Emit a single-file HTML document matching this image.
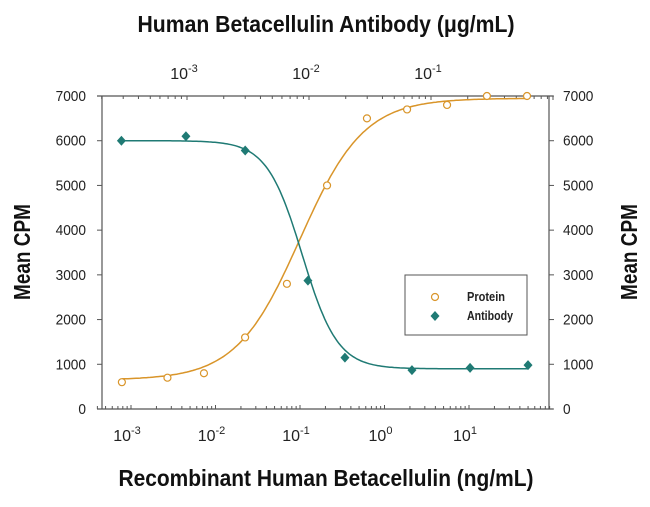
<!DOCTYPE html>
<html><head><meta charset="utf-8"><style>
body{margin:0;background:#fff}
svg{font-family:"Liberation Sans Narrow","Liberation Sans",sans-serif}
</style></head><body>
<svg id="chart" width="650" height="502" xmlns="http://www.w3.org/2000/svg"></svg>
<script>
const yTicks=[0,1000,2000,3000,4000,5000,6000,7000];
const bottomDecades=[-3,-2,-1,0,1];
const topDecades=[-3,-2,-1];
const proteinConc=[0.00078,0.0027,0.0073,0.0224,0.070,0.209,0.62,1.85,5.5,16.3,48.6];
const proteinCPM=[600,700,800,1600,2800,5000,6500,6700,6800,7000,7000];
const antibodyConc=[0.00029,0.00098,0.0030,0.0098,0.0197,0.0698,0.209,0.624];
const antibodyCPM=[6000,6100,5780,2870,1150,870,920,980];
const proteinFit={low:650,high:6950,ec50:0.1,hill:1.15};
const antibodyFit={low:6000,high:900,ec50:0.0088,hill:3.0};

const NS="http://www.w3.org/2000/svg";
const svg=document.getElementById('chart');
const L=97,R=553,T=96,B=409;
const y=v=>B-(v/7000)*(B-T);
const xb=c=>131+(Math.log10(c)+3)*84.5;
const xt=c=>187+(Math.log10(c)+3)*122;
function mk(tag,attrs,parent){const e=document.createElementNS(NS,tag);for(const k in attrs)e.setAttribute(k,attrs[k]);(parent||svg).appendChild(e);return e;}
function txt(s,attrs){const e=mk('text',attrs);e.textContent=s;return e;}

let a=mk('line',{x1:L,y1:B,x2:R,y2:B,stroke:'#555','stroke-width':1.2});

a=mk('line',{x1:L,y1:T,x2:R,y2:T,stroke:'#555','stroke-width':1.2});

a=mk('line',{x1:102,y1:T,x2:102,y2:B,stroke:'#555','stroke-width':1.2});

a=mk('line',{x1:549,y1:T,x2:549,y2:B,stroke:'#555','stroke-width':1.2});


yTicks.forEach(v=>{
  const yy=y(v);
  mk('line',{x1:97,y1:yy,x2:102,y2:yy,stroke:'#555'});
  mk('line',{x1:549,y1:yy,x2:554,y2:yy,stroke:'#555'});
  const w=String(v).length*7.6;
  let t=txt(String(v),{x:86,y:yy+5,'text-anchor':'end','font-size':15,fill:'#222',textLength:w,lengthAdjust:'spacingAndGlyphs'});
  
  t=txt(String(v),{x:563,y:yy+5,'text-anchor':'start','font-size':15,fill:'#222',textLength:w,lengthAdjust:'spacingAndGlyphs'});
  
});
for(let d=-4;d<=2;d++){for(let m=1;m<10;m++){const c=m*Math.pow(10,d);const xx=xb(c);if(xx<L||xx>R)continue;
  mk('line',{x1:xx,y1:B,x2:xx,y2:B-(m==1?4:3),stroke:'#555'});}}
bottomDecades.forEach(d=>{const t=txt('10',{x:xb(Math.pow(10,d))-4,y:441,'text-anchor':'middle','font-size':16,fill:'#222'});
  const s=mk('tspan',{dy:-7,'font-size':11},t);s.textContent=String(d);
  });
for(let d=-4;d<=0;d++){for(let m=1;m<10;m++){const c=m*Math.pow(10,d);const xx=xt(c);if(xx<L||xx>R)continue;
  mk('line',{x1:xx,y1:T,x2:xx,y2:T+(m==1?4:3),stroke:'#555'});}}
topDecades.forEach(d=>{const t=txt('10',{x:xt(Math.pow(10,d))-3,y:79,'text-anchor':'middle','font-size':16,fill:'#222'});
  const s=mk('tspan',{dy:-7,'font-size':11},t);s.textContent=String(d);
  });

function curve(fit,xf,c0,c1,color,name){let d='';for(let i=0;i<=200;i++){const lc=Math.log10(c0)+(Math.log10(c1)-Math.log10(c0))*i/200;const c=Math.pow(10,lc);
  const v=fit.low+(fit.high-fit.low)/(1+Math.pow(fit.ec50/c,fit.hill));d+=(i?'L':'M')+xf(c).toFixed(1)+','+y(v).toFixed(1);}
  const p=mk('path',{d:d,fill:'none',stroke:color,'stroke-width':1.5});}
curve(proteinFit,xb,proteinConc[0],proteinConc[proteinConc.length-1],'#d9952a','protein-fit-curve');
curve(antibodyFit,xt,antibodyConc[0],antibodyConc[antibodyConc.length-1],'#1f7a74','antibody-fit-curve');

proteinConc.forEach((c,i)=>{const e=mk('circle',{cx:xb(c),cy:y(proteinCPM[i]),r:3.5,fill:'#fff',stroke:'#d9952a','stroke-width':1.2});
  });
antibodyConc.forEach((c,i)=>{const cx=xt(c),cy=y(antibodyCPM[i]);const e=mk('polygon',{points:`${cx},${cy-5} ${cx+4.5},${cy} ${cx},${cy+5} ${cx-4.5},${cy}`,fill:'#1f7a74'});
  });

const lg=mk('rect',{x:405,y:275,width:122,height:60,fill:'#fff',stroke:'#555'});

let le=mk('circle',{cx:435,cy:297,r:3.5,fill:'#fff',stroke:'#d9952a','stroke-width':1.2});

le=txt('Protein',{x:467,y:301,'font-size':13,'font-weight':'bold',fill:'#222',textLength:38,lengthAdjust:'spacingAndGlyphs'});

le=mk('polygon',{points:'435,311 439.5,316 435,321 430.5,316',fill:'#1f7a74'});

le=txt('Antibody',{x:467,y:320,'font-size':13,'font-weight':'bold',fill:'#222',textLength:46,lengthAdjust:'spacingAndGlyphs'});


let t=txt('Human Betacellulin Antibody (μg/mL)',{x:326,y:32,'text-anchor':'middle','font-size':23,'font-weight':'bold',fill:'#111',textLength:377,lengthAdjust:'spacingAndGlyphs'});

t=txt('Recombinant Human Betacellulin (ng/mL)',{x:326,y:486,'text-anchor':'middle','font-size':23,'font-weight':'bold',fill:'#111',textLength:415,lengthAdjust:'spacingAndGlyphs'});

t=txt('Mean CPM',{x:0,y:0,'text-anchor':'middle','font-size':23,'font-weight':'bold',fill:'#111',textLength:96,lengthAdjust:'spacingAndGlyphs',transform:'translate(30,252) rotate(-90)'});

t=txt('Mean CPM',{x:0,y:0,'text-anchor':'middle','font-size':23,'font-weight':'bold',fill:'#111',textLength:96,lengthAdjust:'spacingAndGlyphs',transform:'translate(637,252) rotate(-90)'});

</script>
</body></html>
